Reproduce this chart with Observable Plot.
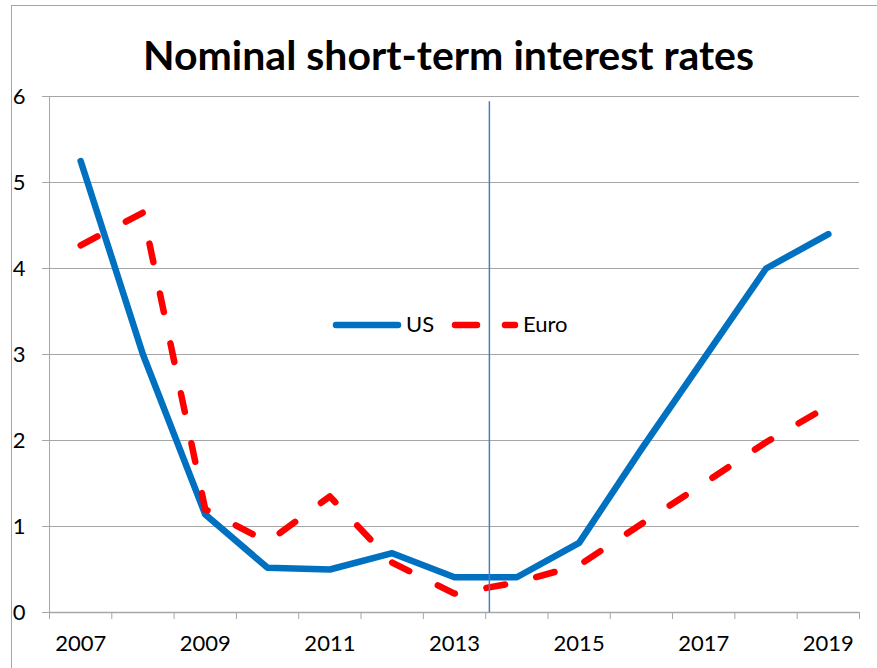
<!DOCTYPE html>
<html>
<head>
<meta charset="utf-8">
<script src="https://cdn.jsdelivr.net/npm/d3@7"></script>
<script src="https://cdn.jsdelivr.net/npm/@observablehq/plot@0.6"></script>
<style>
  body { margin: 0; background: #fff; }
  #wrap { position: relative; width: 877px; height: 668px; overflow: hidden; font-family: Lato, "Open Sans", sans-serif; background: #fff; }
  #frame { position: absolute; left: 11px; top: 5px; width: 900px; height: 700px; border-left: 1px solid #a6a6a6; border-top: 1px solid #a6a6a6; }
  #title { position: absolute; left: 20px; top: 34px; width: 857px; text-align: center; font-weight: 700; font-size: 41px; line-height: 1; color: #000; }
  #chart { position: absolute; left: 0; top: 80px; }
  #legend { position: absolute; left: 0; top: 0; width: 877px; height: 668px; pointer-events: none; }
  #legend span { position: absolute; font-size: 22px; line-height: 1; color: #000; }
</style>
</head>
<body>
<div id="wrap">
  <div id="frame"></div>
  <div id="title">Nominal short-term interest rates</div>
  <div id="chart"></div>
  <div id="legend">
    <svg width="877" height="668" style="position:absolute;left:0;top:0">
      <line x1="336" y1="325" x2="398" y2="325" stroke="#0070C0" stroke-width="6.5" stroke-linecap="round"/>
      <line x1="455" y1="325" x2="515" y2="325" stroke="#FF0000" stroke-width="6.5" stroke-linecap="round" stroke-dasharray="22,28"/>
    </svg>
    <span style="left:406px;top:313px">US</span>
    <span style="left:523px;top:313px">Euro</span>
  </div>
</div>
<script>
// ---- data ----
const years = [2007, 2008, 2009, 2010, 2011, 2012, 2013, 2014, 2015, 2016, 2017, 2018, 2019];
const usRates = [5.25, 3.0, 1.14, 0.52, 0.50, 0.69, 0.41, 0.41, 0.81, 1.9, 2.95, 4.0, 4.4];
const euroRates = [4.27, 4.65, 1.2, 0.82, 1.35, 0.58, 0.22, 0.35, 0.55, 1.03, 1.5, 1.98, 2.4];
const yTicks = [0, 1, 2, 3, 4, 5, 6];
const xTickLabels = [2007, 2009, 2011, 2013, 2015, 2017, 2019];
const categoryEdges = d3.range(2006.5, 2020, 1);
const markerYear = 2013.56;
const markerTop = 5.94;

const rows = years.map((year, i) => ({year, us: usRates[i], euro: euroRates[i]}));
const grid = "#a6a6a6";

const chart = Plot.plot({
  width: 877,
  height: 588,
  marginLeft: 49,
  marginRight: 18,
  marginTop: 16,
  marginBottom: 56,
  x: {domain: [2006.5, 2019.5], axis: null},
  y: {domain: [0, 6], axis: null},
  style: {fontFamily: "Lato, 'Open Sans', sans-serif", fontSize: "22px", color: "#000", background: "transparent", overflow: "visible"},
  marks: [
    Plot.gridY(yTicks, {stroke: grid, strokeOpacity: 1, strokeWidth: 1}),
    Plot.axisY(yTicks, {label: null, tickSize: 7, tickPadding: 17, stroke: grid, fill: "#000", fontSize: 22, tickFormat: d => String(d)}),
    Plot.ruleX([2006.5], {stroke: grid, strokeWidth: 1}),
    Plot.ruleY([0], {stroke: grid, strokeWidth: 1.5}),
    Plot.axisX(categoryEdges, {label: null, tickSize: 7, text: null, stroke: grid}),
    Plot.axisX(xTickLabels, {label: null, tickSize: 0, tickPadding: 23, fill: "#000", fontSize: 22, tickFormat: d => String(d)}),
    Plot.line(rows, {x: "year", y: "us", stroke: "#0070C0", strokeWidth: 6.5, strokeLinecap: "round", strokeLinejoin: "round"}),
    Plot.line(rows, {x: "year", y: "euro", stroke: "#FF0000", strokeWidth: 6.5, strokeLinecap: "round", strokeLinejoin: "round", strokeDasharray: "19,32"}),
    Plot.ruleX([markerYear], {y1: 0, y2: markerTop, stroke: "#4A7EBB", strokeWidth: 1.5})
  ]
});
document.getElementById("chart").appendChild(chart);
</script>
</body>
</html>
